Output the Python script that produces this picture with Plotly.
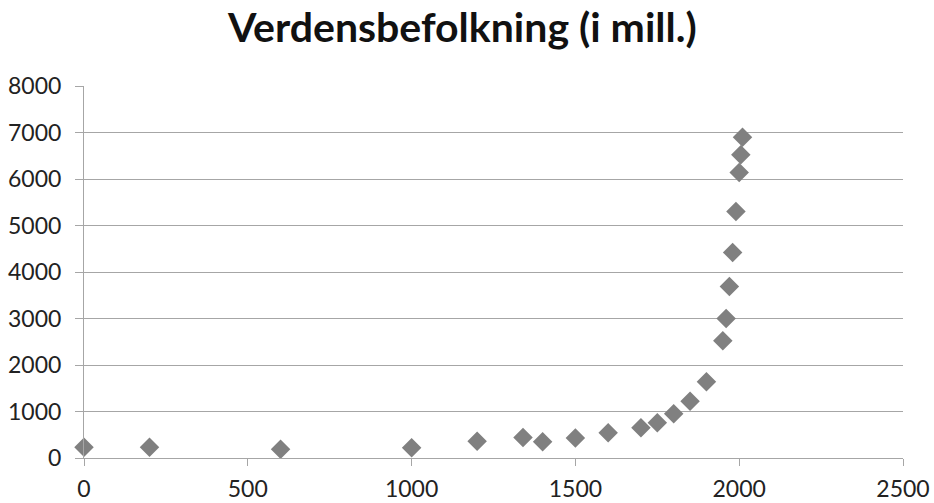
import plotly.graph_objects as go

# World population estimates (millions) by year
years = [0, 200, 600, 1000, 1200, 1340, 1400, 1500, 1600, 1700, 1750, 1800,
         1850, 1900, 1950, 1960, 1970, 1980, 1990, 2000, 2005, 2010]
population = [230, 230, 190, 220, 360, 440, 350, 430, 545, 650, 760, 950,
              1220, 1640, 2520, 3000, 3690, 4420, 5300, 6140, 6520, 6900]

x_ticks = [0, 500, 1000, 1500, 2000, 2500]
y_ticks = [0, 1000, 2000, 3000, 4000, 5000, 6000, 7000, 8000]

grid_color = "#a6a6a6"
text_color = "#222222"

fig = go.Figure(
    go.Scatter(
        x=years,
        y=population,
        mode="markers",
        marker=dict(symbol="diamond", size=15, color="#808080",
                    line=dict(width=0)),
        showlegend=False,
        cliponaxis=False,
    )
)

fig.update_layout(
    width=934,
    height=503,
    margin=dict(l=84, r=31, t=86, b=45, autoexpand=False),
    paper_bgcolor="white",
    plot_bgcolor="white",
    font=dict(family="Lato", color=text_color),
    title=dict(
        text="<b>Verdensbefolkning (i mill.)</b>",
        x=0.495,
        xanchor="center",
        y=1 - 28 / 503,
        yanchor="middle",
        yref="container",
        font=dict(family="Lato", size=41, color="#111111"),
    ),
)

fig.update_xaxes(
    range=[0, 2500],
    tickvals=x_ticks,
    ticktext=[str(v) for v in x_ticks],
    showgrid=False,
    zeroline=False,
    showline=True,
    linecolor=grid_color,
    linewidth=1,
    ticks="outside",
    ticklen=7,
    tickcolor=grid_color,
    ticklabelstandoff=3,
    tickfont=dict(size=23, color=text_color),
    automargin=False,
    fixedrange=True,
)

fig.update_yaxes(
    range=[0, 8000],
    tickvals=y_ticks,
    ticktext=[str(v) for v in y_ticks],
    showgrid=True,
    gridcolor=grid_color,
    gridwidth=1,
    zeroline=False,
    showline=True,
    linecolor=grid_color,
    linewidth=1,
    ticks="outside",
    ticklen=8,
    tickcolor=grid_color,
    ticklabelstandoff=9,
    tickfont=dict(size=23, color=text_color),
    automargin=False,
    fixedrange=True,
)

fig.write_html("out.html", config={"displayModeBar": False})
